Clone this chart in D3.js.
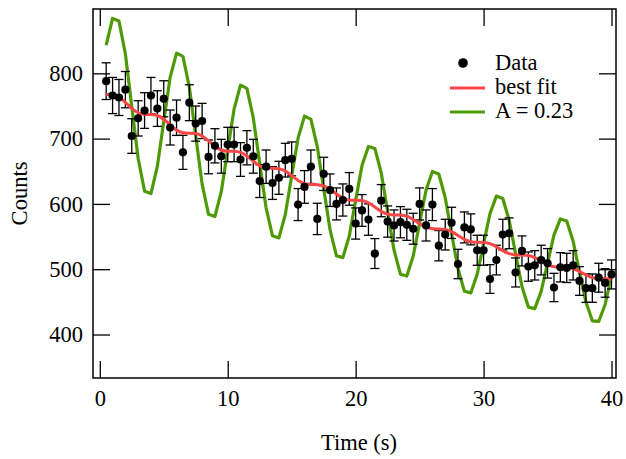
<!DOCTYPE html>
<html>
<head>
<meta charset="utf-8">
<script src="https://cdn.jsdelivr.net/npm/d3@7"></script>
<style>
  body { margin: 0; background: #fff; }
  svg text { font-family: "Liberation Serif", "Times New Roman", serif; fill: #000; }
</style>
</head>
<body>
<svg id="chart" width="626" height="459"></svg>
<script>
// measured time points (s)
const times = [0.5, 1, 1.5, 2, 2.5, 3, 3.5, 4, 4.5, 5, 5.5, 6, 6.5, 7, 7.5, 8, 8.5, 9, 9.5, 10,
  10.5, 11, 11.5, 12, 12.5, 13, 13.5, 14, 14.5, 15, 15.5, 16, 16.5, 17, 17.5, 18, 18.5, 19, 19.5, 20,
  20.5, 21, 21.5, 22, 22.5, 23, 23.5, 24, 24.5, 25, 25.5, 26, 26.5, 27, 27.5, 28, 28.5, 29, 29.5, 30,
  30.5, 31, 31.5, 32, 32.5, 33, 33.5, 34, 34.5, 35, 35.5, 36, 36.5, 37, 37.5, 38, 38.5, 39, 39.5, 40];

const counts = [788, 766, 763, 775, 704, 731, 743, 766, 746, 761,
  717, 732, 679, 755, 723, 727, 672, 689, 673, 691,
  691, 668, 686, 673, 635, 657, 632, 640, 667, 669,
  599, 626, 657, 577, 646, 621, 600, 606, 623, 570,
  590, 576, 524, 605, 573, 567, 572, 568, 562, 600,
  567, 599, 536, 553, 571, 508, 564, 561, 529, 529,
  485, 514, 553, 555, 495, 528, 504, 506, 514, 509,
  472, 503, 502, 506, 482, 471, 471, 487, 479, 492];

const errors = [28.1, 27.7, 27.6, 27.8, 26.5, 27.0, 27.3, 27.7, 27.3, 27.6,
  26.8, 27.1, 26.1, 27.5, 26.9, 27.0, 25.9, 26.2, 25.9, 26.3,
  26.3, 25.8, 26.2, 25.9, 25.2, 25.6, 25.1, 25.3, 25.8, 25.9,
  24.5, 25.0, 25.6, 24.0, 25.4, 24.9, 24.5, 24.6, 25.0, 23.9,
  24.3, 24.0, 22.9, 24.6, 23.9, 23.8, 23.9, 23.8, 23.7, 24.5,
  23.8, 24.5, 23.2, 23.5, 23.9, 22.5, 23.7, 23.7, 23.0, 23.0,
  22.0, 22.7, 23.5, 23.6, 22.2, 23.0, 22.4, 22.5, 22.7, 22.6,
  21.7, 22.4, 22.4, 22.5, 22.0, 21.7, 21.7, 22.1, 21.9, 22.2];

// best fit curve
const fitCounts = [767.5, 767.1, 763.4, 755.6, 746.3, 739.6, 737.2, 737.1, 735.4, 729.6,
  720.9, 713.0, 708.9, 708.2, 707.7, 704.0, 696.7, 688.4, 682.6, 680.7,
  680.6, 678.8, 673.3, 665.4, 658.4, 655.0, 654.5, 653.9, 650.3, 643.5,
  636.0, 631.1, 629.6, 629.5, 627.6, 622.3, 615.1, 609.0, 606.1, 605.8,
  605.1, 601.6, 595.3, 588.6, 584.4, 583.2, 583.1, 581.2, 576.2, 569.6,
  564.3, 561.9, 561.7, 561.0, 557.5, 551.7, 545.7, 542.1, 541.2, 541.1,
  539.1, 534.4, 528.5, 523.8, 521.9, 521.8, 520.9, 517.6, 512.2, 506.9,
  503.9, 503.2, 503.0, 501.1, 496.6, 491.2, 487.2, 485.7, 485.6, 484.7];

// model with A = 0.23
const altCounts = [843.0, 884.0, 880.0, 830.0, 749.2, 669.5, 619.5, 615.8, 657.5, 726.2,
  793.9, 831.0, 826.0, 779.0, 704.1, 630.3, 584.0, 580.6, 619.1, 682.8,
  745.5, 781.9, 777.0, 731.7, 662.4, 594.0, 551.1, 547.9, 583.7, 642.7,
  700.7, 734.4, 729.9, 687.9, 623.7, 560.4, 520.6, 517.7, 550.8, 605.4,
  659.2, 688.0, 685.0, 647.4, 587.9, 529.2, 492.4, 489.6, 520.3, 571.0,
  620.8, 649.7, 645.8, 609.8, 554.7, 500.4, 466.2, 463.7, 492.1, 539.0,
  585.2, 612.0, 608.4, 575.0, 523.9, 473.6, 442.0, 439.7, 466.0, 509.4,
  552.2, 577.0, 573.7, 542.8, 495.5, 449.8, 421.0, 420.0, 446.0, 490.0];

const xTicks = [0, 10, 20, 30, 40];
const yTicks = [400, 500, 600, 700, 800];
const legendLabels = ['Data', 'best fit', 'A = 0.23'];

const colors = { fit: '#fa4646', alt: '#4e9a06' };

const svg = d3.select('#chart');
const box = { left: 93, right: 616, top: 9, bottom: 378 };
const tickLen = 17;
const fontSize = 22.5;

const x = d3.scaleLinear().domain([-0.53, 40.35]).range([box.left, box.right]);
const y = d3.scaleLinear().domain([333.4, 898.5]).range([box.bottom, box.top]);

function styleAxis(g) {
  g.select('.domain').remove();
  g.selectAll('.tick line').attr('stroke', '#000').attr('stroke-width', 1.3);
  g.selectAll('.tick text').style('font-size', fontSize + 'px');
}

svg.append('g')
  .attr('transform', `translate(0,${box.bottom})`)
  .call(d3.axisBottom(x).tickValues(xTicks).tickSize(-tickLen).tickPadding(12).tickFormat(d3.format('d')))
  .call(styleAxis);
svg.append('g')
  .attr('transform', `translate(0,${box.top})`)
  .call(d3.axisTop(x).tickValues(xTicks).tickSize(-tickLen).tickFormat(''))
  .call(styleAxis);
svg.append('g')
  .attr('transform', `translate(${box.left},0)`)
  .call(d3.axisLeft(y).tickValues(yTicks).tickSize(-tickLen).tickPadding(10).tickFormat(d3.format('d')))
  .call(styleAxis);
svg.append('g')
  .attr('transform', `translate(${box.right},0)`)
  .call(d3.axisRight(y).tickValues(yTicks).tickSize(-tickLen).tickFormat(''))
  .call(styleAxis);

svg.append('rect')
  .attr('x', box.left).attr('y', box.top)
  .attr('width', box.right - box.left).attr('height', box.bottom - box.top)
  .attr('fill', 'none').attr('stroke', '#000').attr('stroke-width', 1.5);

// axis titles
svg.append('text')
  .attr('x', 359).attr('y', 450)
  .attr('text-anchor', 'middle').style('font-size', fontSize + 'px')
  .text('Time (s)');
svg.append('text')
  .attr('transform', `translate(27,${(box.top + box.bottom) / 2}) rotate(-90)`)
  .attr('text-anchor', 'middle').style('font-size', fontSize + 'px')
  .text('Counts');

const plot = svg.append('g');

// A = 0.23 model
plot.append('path')
  .datum(times.map((t, i) => [t, altCounts[i]]))
  .attr('fill', 'none').attr('stroke', colors.alt).attr('stroke-width', 3.2)
  .attr('stroke-linejoin', 'round')
  .attr('d', d3.line().x(d => x(d[0])).y(d => y(d[1])));

// data with error bars
const pts = times.map((t, i) => ({ t: t, v: counts[i], e: errors[i] }));
const cap = 4.5;
const bars = plot.append('g').attr('stroke', '#000').attr('stroke-width', 1.3);
bars.selectAll('.vbar').data(pts).enter().append('line')
  .attr('x1', d => x(d.t)).attr('x2', d => x(d.t))
  .attr('y1', d => y(d.v - d.e)).attr('y2', d => y(d.v + d.e));
bars.selectAll('.tcap').data(pts).enter().append('line')
  .attr('x1', d => x(d.t) - cap).attr('x2', d => x(d.t) + cap)
  .attr('y1', d => y(d.v + d.e)).attr('y2', d => y(d.v + d.e));
bars.selectAll('.bcap').data(pts).enter().append('line')
  .attr('x1', d => x(d.t) - cap).attr('x2', d => x(d.t) + cap)
  .attr('y1', d => y(d.v - d.e)).attr('y2', d => y(d.v - d.e));

// best fit
plot.append('path')
  .datum(times.map((t, i) => [t, fitCounts[i]]))
  .attr('fill', 'none').attr('stroke', colors.fit).attr('stroke-width', 3)
  .attr('d', d3.line().curve(d3.curveNatural).x(d => x(d[0])).y(d => y(d[1])));

plot.selectAll('.dot').data(pts).enter().append('circle')
  .attr('cx', d => x(d.t)).attr('cy', d => y(d.v)).attr('r', 4.1)
  .attr('fill', '#000');

// legend
const legend = svg.append('g').style('font-size', fontSize + 'px');
legend.append('circle').attr('cx', 463).attr('cy', 63).attr('r', 4.8).attr('fill', '#000');
legend.append('line').attr('x1', 450).attr('x2', 485).attr('y1', 88).attr('y2', 88)
  .attr('stroke', colors.fit).attr('stroke-width', 3);
legend.append('line').attr('x1', 450).attr('x2', 485).attr('y1', 112).attr('y2', 112)
  .attr('stroke', colors.alt).attr('stroke-width', 3);
legend.selectAll('.lbl').data(legendLabels).enter().append('text')
  .attr('x', 495).attr('y', (d, i) => 70 + i * 24)
  .text(d => d);
</script>
</body>
</html>
